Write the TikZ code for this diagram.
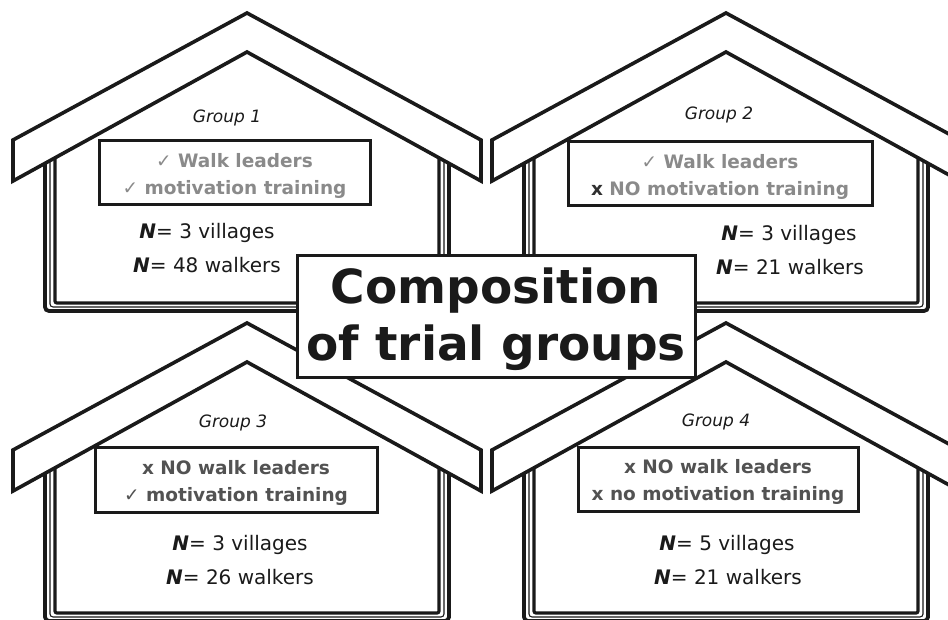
\documentclass[tikz,border=0pt]{standalone}
\usepackage{fontspec}
\setmainfont{DejaVu Sans}
\definecolor{gone}{HTML}{8A8A8A}
\definecolor{gdark}{HTML}{525252}
\definecolor{xdark}{HTML}{303030}
\definecolor{ink}{HTML}{1A1A1A}
\newcommand\ck{{\mdseries ✓}\hspace{0.35em}}
\newcommand\NN{\textbf{\textit{N}}}
\tikzset{
  roofband/.style={draw=ink, line width=3.6pt, fill=white, line join=miter},
  wallouter/.style={draw=ink, line width=3.8pt, rounded corners=4pt},
  wallmid/.style={draw=ink, line width=1.1pt, rounded corners=3pt},
  wallinner/.style={draw=ink, line width=3.2pt, rounded corners=2pt},
  tbox/.style={draw=ink, line width=3pt, fill=white, inner sep=0pt},
  boxtext/.style={inner sep=0pt, align=center, font=\fontsize{18.5}{27}\selectfont\bfseries},
  grouplbl/.style={inner sep=0pt, anchor=base, text=ink, font=\fontsize{17}{20}\selectfont\itshape},
  ntext/.style={inner sep=0pt, anchor=base, text=ink, font=\fontsize{20}{24}\selectfont},
  titletext/.style={inner sep=0pt, align=center, text=ink, font=\fontsize{47}{57}\selectfont\bfseries}
}
\newcommand\drawhouse{%
  \draw[wallouter] (45,150) -- (45,311) -- (449,311) -- (449,150);
  \draw[wallmid] (50,150) -- (50,307) -- (444,307) -- (444,150);
  \draw[wallinner] (55,150) -- (55,303) -- (439,303) -- (439,150);
  \draw[roofband] (13,140) -- (247,13) -- (481,140) -- (481,181) -- (247,52) -- (13,181) -- cycle;
}
\begin{document}
\begin{tikzpicture}[x=1pt,y=-1pt]
\useasboundingbox (0,0) rectangle (948,620);
\clip (0,0) rectangle (948,620);
\fill[white] (0,0) rectangle (948,620);
% houses
\begin{scope}\drawhouse\end{scope}
\begin{scope}[shift={(479,0)}]\drawhouse\end{scope}
\begin{scope}[shift={(0,310)}]\drawhouse\end{scope}
\begin{scope}[shift={(479,310)}]\drawhouse\end{scope}
% group 1
\node[grouplbl] (g1) at (227,123) {Group 1};
\node[tbox, minimum width=271pt, minimum height=64pt] (b1) at (234.5,173) {};
\node[boxtext, text=gone] (t1) at ([yshift=-3pt]b1.center) {\ck Walk leaders\\\ck motivation training};
\node[ntext] (v1) at (207,239) {\NN= 3 villages};
\node[ntext] (w1) at (207,273) {\NN= 48 walkers};
% group 2
\node[grouplbl] (g2) at (719,120) {Group 2};
\node[tbox, minimum width=304pt, minimum height=64pt] (b2) at (720,174) {};
\node[boxtext, text=gone] (t2) at ([yshift=-3pt]b2.center) {\ck Walk leaders\\\textcolor{xdark}{x} NO motivation training};
\node[ntext] (v2) at (789,241) {\NN= 3 villages};
\node[ntext] (w2) at (790,275) {\NN= 21 walkers};
% group 3
\node[grouplbl] (g3) at (233,427) {Group 3};
\node[tbox, minimum width=282pt, minimum height=65pt] (b3) at (236,479.5) {};
\node[boxtext, text=gdark] (t3) at ([yshift=-3pt]b3.center) {x NO walk leaders\\\ck motivation training};
\node[ntext] (v3) at (240,550) {\NN= 3 villages};
\node[ntext] (w3) at (240,584) {\NN= 26 walkers};
% group 4
\node[grouplbl] (g4) at (716,426) {Group 4};
\node[tbox, minimum width=280pt, minimum height=64pt] (b4) at (718,479) {};
\node[boxtext, text=gdark] (t4) at ([yshift=-3pt]b4.center) {x NO walk leaders\\x no motivation training};
\node[ntext] (v4) at (727,550) {\NN= 5 villages};
\node[ntext] (w4) at (728,584) {\NN= 21 walkers};
% title
\node[tbox, minimum width=398pt, minimum height=121pt] (title) at (496,316.5) {};
\node[titletext] (tt) at ([yshift=-2.5pt]title.center) {Composition\\of trial groups};
\end{tikzpicture}
\end{document}
